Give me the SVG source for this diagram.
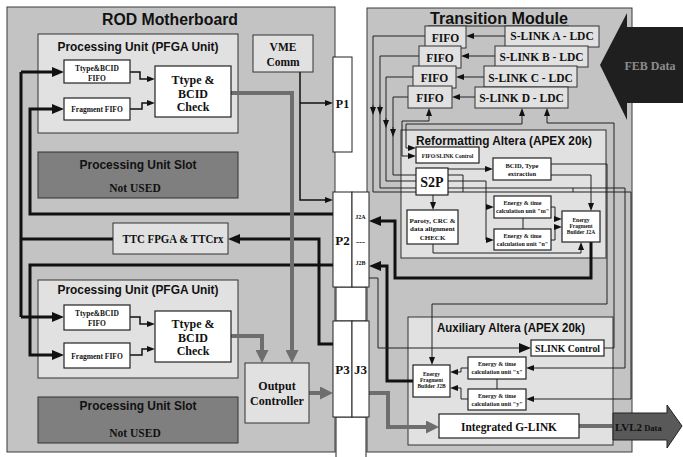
<svg xmlns="http://www.w3.org/2000/svg" width="683" height="457" viewBox="0 0 683 457">
<defs>
<style>
.pan{fill:#c3c3c3;stroke:#3a3a3a;stroke-width:1}
.lt{fill:#e1e1e1;stroke:#333;stroke-width:1}
.wb{fill:#fff;stroke:#222;stroke-width:1.2}
.slot{fill:#7f7f7f;stroke:#333;stroke-width:1}
.wh{fill:#fff;stroke:#222;stroke-width:1}
.tt{font-family:"Liberation Sans",Arial,sans-serif;font-weight:bold;fill:#111}
.sf{font-family:"Liberation Serif","Times New Roman",serif;font-weight:bold;fill:#111}
.ln{fill:none;stroke:#222;stroke-width:1}
.ln2{fill:none;stroke:#111;stroke-width:1.5}
.thk{fill:none;stroke:#111;stroke-width:3}
.gr{fill:none;stroke:#6e6e6e;stroke-width:4}
</style>
<marker id="a" viewBox="0 0 8 6" refX="2" refY="3" markerWidth="8" markerHeight="6" markerUnits="userSpaceOnUse" orient="auto"><path d="M0,0L8,3L0,6z" fill="#111"/></marker>
<marker id="as" viewBox="0 0 8 6" refX="2" refY="3" markerWidth="8" markerHeight="6" markerUnits="userSpaceOnUse" orient="auto-start-reverse"><path d="M0,0L8,3L0,6z" fill="#111"/></marker>
<marker id="aL" viewBox="0 0 12 10" refX="4" refY="5" markerWidth="12" markerHeight="10" markerUnits="userSpaceOnUse" orient="auto"><path d="M0,0L12,5L0,10z" fill="#111"/></marker>
<marker id="aG" viewBox="0 0 13 13" refX="5" refY="6.5" markerWidth="13" markerHeight="13" markerUnits="userSpaceOnUse" orient="auto"><path d="M0,0L13,6.5L0,13z" fill="#6e6e6e"/></marker>
</defs>
<rect width="683" height="457" fill="#fff"/>

<!-- containers -->
<g id="rod-motherboard">
<rect class="pan" x="7" y="7" width="328" height="445"/>
<text class="tt" x="170" y="25" font-size="16" text-anchor="middle" textLength="136" lengthAdjust="spacingAndGlyphs">ROD Motherboard</text>
</g>
<g id="transition-module">
<rect class="pan" x="367" y="8" width="265" height="444"/>
<text class="tt" x="499" y="24" font-size="16" text-anchor="middle" textLength="138" lengthAdjust="spacingAndGlyphs">Transition Module</text>
<line x1="428" y1="26" x2="569" y2="26" stroke="#222" stroke-width="1"/>
</g>
<g id="pu1">
<rect class="lt" x="38" y="34" width="200" height="99"/>
<text class="tt" x="138" y="51" font-size="12.5" text-anchor="middle" textLength="161" lengthAdjust="spacingAndGlyphs">Processing Unit (PFGA Unit)</text>
</g>
<g id="pu2">
<rect class="lt" x="38" y="280" width="200" height="98"/>
<text class="tt" x="138" y="294" font-size="12.5" text-anchor="middle" textLength="161" lengthAdjust="spacingAndGlyphs">Processing Unit (PFGA Unit)</text>
</g>
<g id="reformatting-altera">
<rect class="lt" x="401" y="130" width="205" height="128"/>
<text class="tt" x="416" y="145" font-size="12" textLength="176" lengthAdjust="spacingAndGlyphs">Reformatting Altera (APEX 20k)</text>
</g>
<g id="auxiliary-altera">
<rect class="lt" x="408" y="317" width="205" height="128"/>
<text class="tt" x="437" y="332" font-size="12" textLength="148" lengthAdjust="spacingAndGlyphs">Auxiliary Altera (APEX 20k)</text>
</g>

<!-- connectors -->
<g id="connectors">
<path class="thk" d="M113,239 H21 M21,72 V317"/>
<path class="thk" d="M21,72 H56" marker-end="url(#aL)"/>
<path class="thk" d="M21,317 H56" marker-end="url(#aL)"/>
<path class="thk" d="M333,214 H30 V109 H56" marker-end="url(#aL)"/>
<path class="thk" d="M333,265 H30 V355 H56" marker-end="url(#aL)"/>
<path class="thk" d="M333,344 H319 V239 H236" marker-end="url(#aL)"/>
<path class="ln2" d="M130,72 H140 V79 H149" marker-end="url(#a)"/>
<path class="ln2" d="M130,109 H142 V103 H149" marker-end="url(#a)"/>
<path class="ln2" d="M130,317 H140 V324 H149" marker-end="url(#a)"/>
<path class="ln2" d="M130,355 H142 V349 H149" marker-end="url(#a)"/>
<path class="ln2" d="M300,72 V200 H327" marker-end="url(#a)"/>
<path class="ln2" d="M300,103 H327" marker-end="url(#a)"/>
<path class="gr" d="M231,93 H292 V355" marker-end="url(#aG)"/>
<path class="gr" d="M231,336 H262 V355" marker-end="url(#aG)"/>
<path class="gr" d="M309,393 H325" marker-end="url(#aG)"/>

<path class="ln" d="M505,36 H472" marker-end="url(#a)"/>
<path class="ln" d="M495,56 H467" marker-end="url(#a)"/>
<path class="ln" d="M484,77 H462" marker-end="url(#a)"/>
<path class="ln" d="M475,97 H458" marker-end="url(#a)"/>
<path class="ln" d="M425,36 H373 V192 H416"/>
<path class="ln" d="M419,56 H380 V188 H416"/>
<path class="ln" d="M413,77 H386 V181 H416"/>
<path class="ln" d="M408,97 H393 V175 H416"/>
<path class="ln" d="M373,105 V109" marker-end="url(#a)"/>
<path class="ln" d="M380,105 V109" marker-end="url(#a)"/>
<path class="ln" d="M386,118 V122" marker-end="url(#a)"/>
<path class="ln" d="M393,127 V131" marker-end="url(#a)"/>
<path class="ln" d="M410,148 H406 V124 H522 V114" marker-start="url(#as)" marker-end="url(#a)"/>
<path class="ln" d="M410,156 H402 V121 H429 V114" marker-start="url(#as)" marker-end="url(#a)"/>
<path class="ln" d="M604,348 H614 V123 H547 V114" marker-end="url(#a)"/>
<path class="ln" d="M448,169 H487" marker-end="url(#a)"/>
<path class="ln" d="M551,175 H591 V205" marker-end="url(#a)"/>
<path class="ln" d="M551,164 H607 V304 H432 V359" marker-end="url(#a)"/>
<path class="ln" d="M433,195 V204" marker-end="url(#a)"/>
<path class="ln" d="M433,244 V253 H581 V248" marker-end="url(#a)"/>
<path class="ln" d="M448,181 H486 V240 H488" marker-end="url(#a)"/>
<path class="ln" d="M486,207 H488" marker-end="url(#a)"/>
<path class="ln" d="M551,207 H555 V219 H556" marker-end="url(#a)"/>
<path class="ln" d="M551,240 H555 V227 H556" marker-end="url(#a)"/>
<path class="ln" d="M523,218 V229"/>
<path class="ln" d="M448,175 H463 V192 M573,188 V192"/>
<path class="ln" d="M448,188 H625 V368 H532" marker-end="url(#a)"/>
<path class="ln" d="M448,192 H631 V399 H532" marker-end="url(#a)"/>
<path class="ln" d="M468,368 H461 V372 H456" marker-end="url(#a)"/>
<path class="ln" d="M468,399 H461 V388 H456" marker-end="url(#a)"/>
<path class="ln" d="M497,379 V389"/>
<path class="thk" d="M591,242 V278 H395 V221 H377" marker-end="url(#aL)"/>
<path class="thk" d="M413,381 H387 V266 H377" marker-end="url(#aL)"/>
<path class="ln" d="M369,278 H378 V348 H523" marker-end="url(#aL)"/>
<path class="gr" d="M369,393 H388 V427 H431" marker-end="url(#aG)"/>
<path class="gr" d="M579,426 H613"/>
</g>

<!-- ROD nodes -->
<g id="ttype-fifo-1"><rect class="wb" x="64" y="60" width="66" height="23"/>
<text class="sf" x="97" y="70.5" font-size="7.5" text-anchor="middle">Ttype&amp;BCID</text>
<text class="sf" x="97" y="80.5" font-size="7.5" text-anchor="middle">FIFO</text></g>
<g id="fragment-fifo-1"><rect class="wb" x="64" y="98" width="66" height="22"/>
<text class="sf" x="97" y="112" font-size="7.5" text-anchor="middle">Fragment FIFO</text></g>
<g id="check-1"><rect class="wb" x="155" y="66" width="76" height="51"/>
<text class="sf" x="193" y="84" font-size="12" text-anchor="middle">Ttype &amp;</text>
<text class="sf" x="193" y="97.5" font-size="12" text-anchor="middle">BCID</text>
<text class="sf" x="193" y="111" font-size="12" text-anchor="middle">Check</text></g>
<g id="slot-1"><rect class="slot" x="38" y="152" width="200" height="46"/>
<text class="tt" x="138" y="169" font-size="12.5" text-anchor="middle" textLength="117" lengthAdjust="spacingAndGlyphs">Processing Unit Slot</text>
<text class="sf" x="135" y="192" font-size="11.5" text-anchor="middle">Not USED</text></g>
<g id="vme-comm"><rect class="lt" x="253" y="35" width="60" height="37"/>
<text class="sf" x="283" y="51" font-size="11.5" text-anchor="middle">VME</text>
<text class="sf" x="283" y="66" font-size="11.5" text-anchor="middle">Comm</text></g>
<g id="p1"><rect class="wh" x="333" y="57" width="19" height="95"/>
<text class="sf" x="342.5" y="108" font-size="12" text-anchor="middle">P1</text></g>
<g id="ttc"><rect class="lt" x="113" y="223" width="115" height="31"/>
<text class="sf" x="173" y="243" font-size="12" text-anchor="middle" textLength="101" lengthAdjust="spacingAndGlyphs">TTC FPGA &amp; TTCrx</text></g>
<g id="ttype-fifo-2"><rect class="wb" x="64" y="305" width="66" height="25"/>
<text class="sf" x="97" y="315.5" font-size="7.5" text-anchor="middle">Ttype&amp;BCID</text>
<text class="sf" x="97" y="326" font-size="7.5" text-anchor="middle">FIFO</text></g>
<g id="fragment-fifo-2"><rect class="wb" x="64" y="343" width="66" height="25"/>
<text class="sf" x="97" y="358.5" font-size="7.5" text-anchor="middle">Fragment FIFO</text></g>
<g id="check-2"><rect class="wb" x="155" y="311" width="76" height="51"/>
<text class="sf" x="193" y="328" font-size="12" text-anchor="middle">Ttype &amp;</text>
<text class="sf" x="193" y="341.5" font-size="12" text-anchor="middle">BCID</text>
<text class="sf" x="193" y="355" font-size="12" text-anchor="middle">Check</text></g>
<g id="slot-2"><rect class="slot" x="38" y="397" width="200" height="46"/>
<text class="tt" x="138" y="410" font-size="12.5" text-anchor="middle" textLength="117" lengthAdjust="spacingAndGlyphs">Processing Unit Slot</text>
<text class="sf" x="135" y="437" font-size="11.5" text-anchor="middle">Not USED</text></g>
<g id="output-controller"><rect class="lt" x="245" y="363" width="64" height="60"/>
<text class="sf" x="277" y="390" font-size="12" text-anchor="middle">Output</text>
<text class="sf" x="277" y="405" font-size="12" text-anchor="middle">Controller</text></g>
<g id="backplane"><rect class="wh" x="336" y="287" width="30" height="34"/>
<rect class="wh" x="336" y="417" width="30" height="41"/></g>
<g id="p2"><rect class="wh" x="333" y="192" width="19" height="95"/>
<text class="sf" x="342.5" y="245" font-size="13" text-anchor="middle">P2</text></g>
<g id="j2"><rect class="wh" x="352" y="192" width="17" height="95"/>
<text class="sf" x="360.5" y="219" font-size="6" text-anchor="middle">J2A</text>
<text class="sf" x="360.5" y="245" font-size="9" text-anchor="middle">---</text>
<text class="sf" x="360.5" y="265" font-size="6" text-anchor="middle">J2B</text></g>
<g id="p3"><rect class="wh" x="333" y="321" width="19" height="96"/>
<text class="sf" x="342.5" y="374" font-size="13" text-anchor="middle">P3</text></g>
<g id="j3"><rect class="wh" x="352" y="321" width="17" height="96"/>
<text class="sf" x="360.5" y="374" font-size="13" text-anchor="middle">J3</text></g>

<!-- TM nodes -->
<g id="feb-data"><polygon points="600,65 627,13 627,27 683,27 683,103 627,103 627,120" fill="#1f1f1f"/>
<text class="sf" x="650" y="70" font-size="12" text-anchor="middle" style="fill:#8c8c8c">FEB Data</text></g>
<g id="fifo-a"><rect class="lt" x="425" y="26" width="41" height="22"/><text class="sf" x="445.5" y="42" font-size="11.5" text-anchor="middle">FIFO</text></g>
<g id="fifo-b"><rect class="lt" x="419" y="46" width="42" height="22"/><text class="sf" x="440" y="62" font-size="11.5" text-anchor="middle">FIFO</text></g>
<g id="fifo-c"><rect class="lt" x="413" y="66" width="43" height="22"/><text class="sf" x="434.5" y="82" font-size="11.5" text-anchor="middle">FIFO</text></g>
<g id="fifo-d"><rect class="lt" x="408" y="86" width="44" height="22"/><text class="sf" x="430" y="102" font-size="11.5" text-anchor="middle">FIFO</text></g>
<g id="slink-a"><rect class="lt" x="505" y="26" width="94" height="21"/><text class="sf" x="552" y="40" font-size="11.5" text-anchor="middle">S-LINK A - LDC</text></g>
<g id="slink-b"><rect class="lt" x="495" y="46" width="93" height="21"/><text class="sf" x="541.5" y="61" font-size="11.5" text-anchor="middle">S-LINK B - LDC</text></g>
<g id="slink-c"><rect class="lt" x="484" y="66" width="93" height="21"/><text class="sf" x="530.5" y="82" font-size="11.5" text-anchor="middle">S-LINK C - LDC</text></g>
<g id="slink-d"><rect class="lt" x="475" y="87" width="93" height="21"/><text class="sf" x="521.5" y="102" font-size="11.5" text-anchor="middle">S-LINK D - LDC</text></g>
<g id="fifo-slink-control"><rect class="wb" x="416" y="147" width="63" height="16"/><text class="sf" x="447.5" y="157.5" font-size="5.5" text-anchor="middle">FIFO/SLINK Control</text></g>
<g id="s2p"><rect class="wb" x="416" y="168" width="32" height="27"/><text class="sf" x="432" y="187" font-size="14" text-anchor="middle">S2P</text></g>
<g id="bcid-type"><rect class="wb" x="493" y="158" width="58" height="22"/>
<text class="sf" x="522" y="167.5" font-size="6.5" text-anchor="middle">BCID, Type</text>
<text class="sf" x="522" y="175.5" font-size="6.5" text-anchor="middle">extraction</text></g>
<g id="parity-check"><rect class="wb" x="407" y="210" width="51" height="34"/>
<text class="sf" x="432.5" y="222.5" font-size="7" text-anchor="middle">Paroty, CRC &amp;</text>
<text class="sf" x="432.5" y="231" font-size="7" text-anchor="middle">data alignment</text>
<text class="sf" x="432.5" y="239.5" font-size="7" text-anchor="middle">CHECK</text></g>
<g id="unit-m"><rect class="wb" x="494" y="196" width="57" height="22"/>
<text class="sf" x="522.5" y="205" font-size="6" text-anchor="middle">Energy &amp; time</text>
<text class="sf" x="522.5" y="213" font-size="6" text-anchor="middle">calculation unit "m"</text></g>
<g id="unit-n"><rect class="wb" x="494" y="229" width="57" height="21"/>
<text class="sf" x="522.5" y="238" font-size="6" text-anchor="middle">Energy &amp; time</text>
<text class="sf" x="522.5" y="246" font-size="6" text-anchor="middle">calculation unit "n"</text></g>
<g id="efb-j2a"><rect class="wb" x="562" y="211" width="38" height="31"/>
<text class="sf" x="581" y="222" font-size="5.5" text-anchor="middle">Energy</text>
<text class="sf" x="581" y="228" font-size="5.5" text-anchor="middle">Fragment</text>
<text class="sf" x="581" y="234" font-size="5.5" text-anchor="middle">Builder J2A</text></g>
<g id="slink-control"><rect class="wb" x="531" y="340" width="73" height="16"/>
<text class="sf" x="567.5" y="352" font-size="10.5" text-anchor="middle" textLength="65" lengthAdjust="spacingAndGlyphs">SLINK Control</text></g>
<g id="efb-j2b"><rect class="wb" x="413" y="365" width="37" height="32"/>
<text class="sf" x="431.5" y="376" font-size="5.5" text-anchor="middle">Energy</text>
<text class="sf" x="431.5" y="382" font-size="5.5" text-anchor="middle">Fragment</text>
<text class="sf" x="431.5" y="388" font-size="5.5" text-anchor="middle">Builder J2B</text></g>
<g id="unit-x"><rect class="wb" x="468" y="357" width="58" height="22"/>
<text class="sf" x="497" y="366" font-size="6" text-anchor="middle">Energy &amp; time</text>
<text class="sf" x="497" y="374" font-size="6" text-anchor="middle">calculation unit "x"</text></g>
<g id="unit-y"><rect class="wb" x="468" y="389" width="58" height="21"/>
<text class="sf" x="497" y="398" font-size="6" text-anchor="middle">Energy &amp; time</text>
<text class="sf" x="497" y="406" font-size="6" text-anchor="middle">calculation unit "y"</text></g>
<g id="g-link"><rect class="wb" x="439" y="414" width="140" height="24"/>
<text class="sf" x="509" y="431" font-size="12.5" text-anchor="middle" textLength="96" lengthAdjust="spacingAndGlyphs">Integrated G-LINK</text></g>
<g id="lvl2-data"><polygon points="613,413 667,413 667,405 682,426 667,448 667,440 613,440" fill="#595959" stroke="#222" stroke-width="1"/>
<text class="sf" x="615" y="431"><tspan font-size="11">LVL2</tspan><tspan font-size="8.5"> Data</tspan></text></g>
</svg>
